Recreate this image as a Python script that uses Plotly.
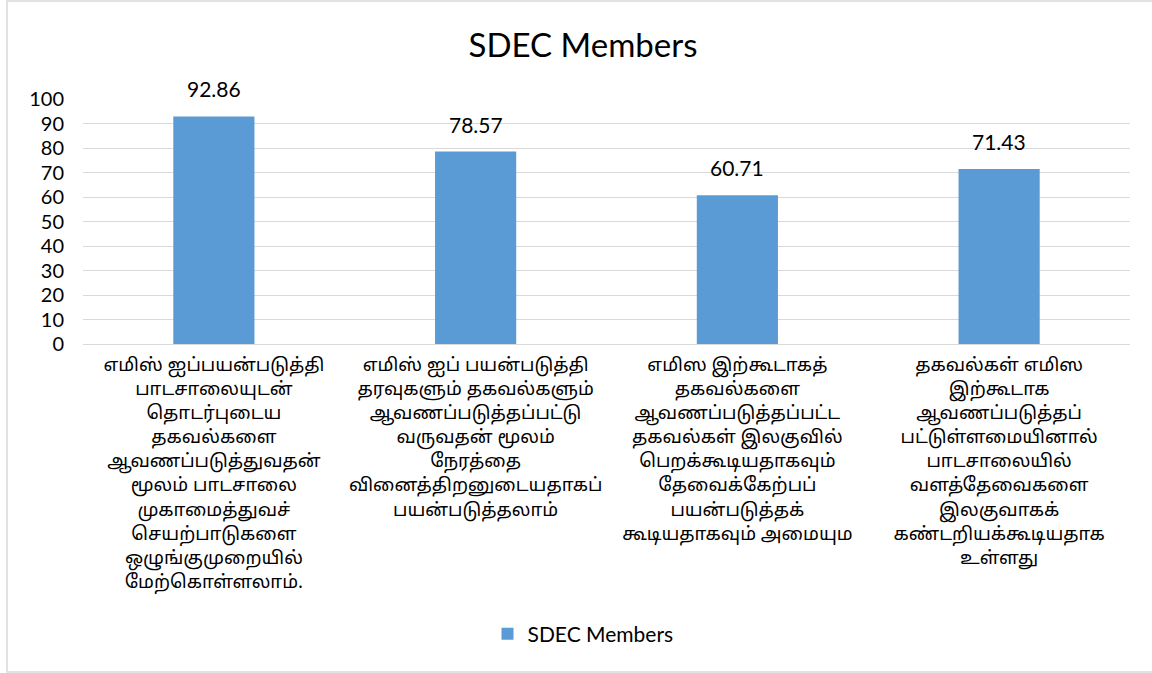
import plotly.graph_objects as go

categories = [
    "எமிஸ் ஐப்பயன்படுத்தி<br>பாடசாலையுடன்<br>தொடர்புடைய<br>தகவல்களை<br>ஆவணப்படுத்துவதன்<br>மூலம் பாடசாலை<br>முகாமைத்துவச்<br>செயற்பாடுகளை<br>ஒழுங்குமுறையில்<br>மேற்கொள்ளலாம்.",
    "எமிஸ் ஐப் பயன்படுத்தி<br>தரவுகளும் தகவல்களும்<br>ஆவணப்படுத்தப்பட்டு<br>வருவதன் மூலம்<br>நேரத்தை<br>வினைத்திறனுடையதாகப்<br>பயன்படுத்தலாம்",
    "எமிஸ இற்கூடாகத்<br>தகவல்களை<br>ஆவணப்படுத்தப்பட்ட<br>தகவல்கள் இலகுவில்<br>பெறக்கூடியதாகவும்<br>தேவைக்கேற்பப்<br>பயன்படுத்தக்<br>கூடியதாகவும் அமையும",
    "தகவல்கள் எமிஸ<br>இற்கூடாக<br>ஆவணப்படுத்தப்<br>பட்டுள்ளமையினால்<br>பாடசாலையில்<br>வளத்தேவைகளை<br>இலகுவாகக்<br>கண்டறியக்கூடியதாக<br>உள்ளது",
]
values = [92.86, 78.57, 60.71, 71.43]
series_name = "SDEC Members"
title_text = "SDEC Members"
y_ticks = [0, 10, 20, 30, 40, 50, 60, 70, 80, 90, 100]

font_main = "Lato, 'Noto Sans', 'Liberation Sans', sans-serif"
font_tamil = "'Noto Sans Tamil', 'Noto Sans Tamil UI', sans-serif"

fig = go.Figure()
fig.add_trace(go.Bar(
    x=categories,
    y=values,
    name=series_name,
    marker=dict(color="#5b9bd5", line=dict(width=0)),
    cliponaxis=False,
    showlegend=True,
))

for c, v in zip(categories, values):
    fig.add_annotation(
        x=c, y=v, xref="x", yref="y",
        text=f"{v:.2f}", showarrow=False,
        yanchor="bottom", yshift=13,
        font=dict(size=21, color="#000000", family=font_main),
    )

fig.update_layout(
    width=1152,
    height=673,
    paper_bgcolor="white",
    plot_bgcolor="white",
    margin=dict(l=83, r=22, t=99, b=329, autoexpand=False),
    title=dict(text=title_text, x=583 / 1152, xanchor="center",
               y=1 - 45 / 673, yanchor="middle", yref="container",
               font=dict(size=33, color="#000000", family=font_main)),
    bargap=0.69,
    xaxis=dict(
        showgrid=False,
        showline=True,
        linecolor="#d9d9d9",
        linewidth=1,
        ticks="",
        ticklabelstandoff=4,
        tickfont=dict(size=18.5, color="#000000", family=font_tamil),
        automargin=False,
        tickangle=0,
    ),
    yaxis=dict(
        range=[0, 100],
        tickvals=y_ticks,
        showgrid=True,
        gridcolor="#d9d9d9",
        gridwidth=1,
        zeroline=False,
        showline=False,
        ticks="",
        ticklabelstandoff=18,
        tickfont=dict(size=20, color="#000000", family=font_main),
        automargin=False,
    ),
    legend=dict(
        orientation="h",
        x=583 / 1152, xanchor="center", xref="container",
        y=1 - 634 / 673, yanchor="middle", yref="container",
        font=dict(size=21, color="#000000", family=font_main),
        itemwidth=30,
    ),
    shapes=[dict(
        type="rect", xref="paper", yref="paper",
        x0=-76 / 1047, x1=1.2, y0=-328 / 245, y1=343 / 245,
        line=dict(color="#d9d9d9", width=1.5),
        fillcolor="rgba(0,0,0,0)", layer="below",
    )],
)

fig.write_html("out.html", config={"displayModeBar": False},
               post_script="document.body.style.margin='0';")
